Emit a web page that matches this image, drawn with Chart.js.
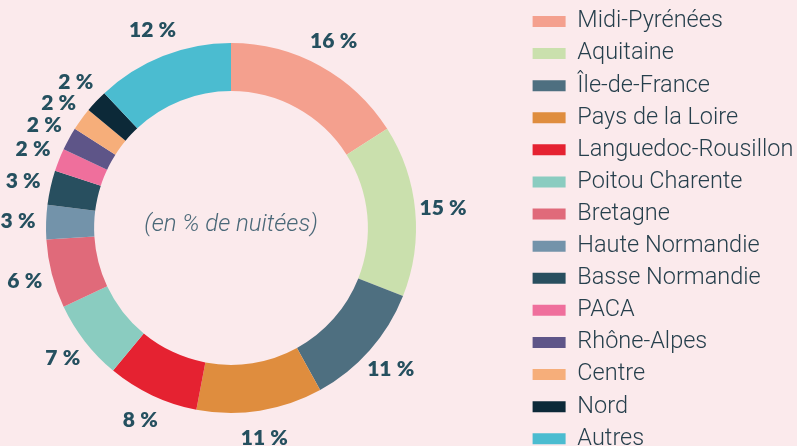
<!DOCTYPE html>
<html>
<head>
<meta charset="utf-8">
<script src="https://cdn.jsdelivr.net/npm/chart.js@4/dist/chart.umd.min.js"></script>
<style>
  html, body { margin: 0; padding: 0; background: #fbeaec; overflow: hidden; }
  #wrap { width: 797px; height: 446px; overflow: hidden; position: relative; }
  /* canvas plus grand que la fenêtre : la légende tient sur une colonne */
  #chart { position: absolute; left: -62px; top: -5px; }
</style>
</head>
<body>
<div id="wrap"><canvas id="chart" width="900" height="470"></canvas></div>
<script>
// données : part des nuitées par région (%)
const regions = [
  "Midi-Pyrénées", "Aquitaine", "Île-de-France", "Pays de la Loire",
  "Languedoc-Rousillon", "Poitou Charente", "Bretagne", "Haute Normandie",
  "Basse Normandie", "PACA", "Rhône-Alpes", "Centre", "Nord", "Autres"
];
const shares = [16, 15, 11, 11, 8, 7, 6, 3, 3, 2, 2, 2, 2, 12];
const colors = [
  "#f4a08e", "#cae0ad", "#4e6f80", "#df8d3e", "#e52231", "#8accc0", "#e06a7a",
  "#7393aa", "#284f5f", "#ef6f9c", "#5e5588", "#f6ae7a", "#0c2938", "#4bbcd0"
];
const centerText = "(en % de nuitées)";

// étiquettes en % autour de l'anneau + texte au centre
const labelsPlugin = {
  id: "sliceLabels",
  afterDatasetsDraw(chart) {
    const { ctx } = chart;
    const meta = chart.getDatasetMeta(0);
    ctx.save();
    ctx.font = "800 21px Lato";
    ctx.fillStyle = "#25505f";
    ctx.textAlign = "center";
    ctx.textBaseline = "middle";
    meta.data.forEach((arc, i) => {
      const { x, y, startAngle, endAngle, outerRadius } = arc.getProps(
        ["x", "y", "startAngle", "endAngle", "outerRadius"], true);
      const mid = (startAngle + endAngle) / 2;
      const r = outerRadius + 28;
      ctx.fillText(shares[i] + "\u202F%", x + Math.cos(mid) * r, y + Math.sin(mid) * r);
    });
    const c = meta.data[0];
    ctx.font = "italic 300 24px Roboto";
    ctx.fillStyle = "#4a6878";
    ctx.fillText(centerText, c.x, c.y - 3);
    ctx.restore();
  }
};

new Chart(document.getElementById("chart"), {
  type: "doughnut",
  data: {
    labels: regions,
    datasets: [{
      data: shares,
      backgroundColor: colors,
      borderWidth: 0
    }]
  },
  options: {
    responsive: false,
    animation: false,
    radius: 185,
    cutout: "74%",
    layout: { padding: { right: 39, bottom: 4 } },
    plugins: {
      tooltip: { enabled: false },
      legend: {
        position: "right",
        maxWidth: 275,
        // titre vide : décale un peu la colonne vers le bas
        title: { display: true, text: " ", padding: { top: 0, bottom: 3 }, font: { size: 1 } },
        labels: {
          boxWidth: 33,
          boxHeight: 11,
          padding: 8.6,
          color: "#263f4c",
          font: { family: "Roboto", size: 23.5, weight: "300" }
        }
      }
    }
  },
  plugins: [labelsPlugin]
});
</script>
</body>
</html>
